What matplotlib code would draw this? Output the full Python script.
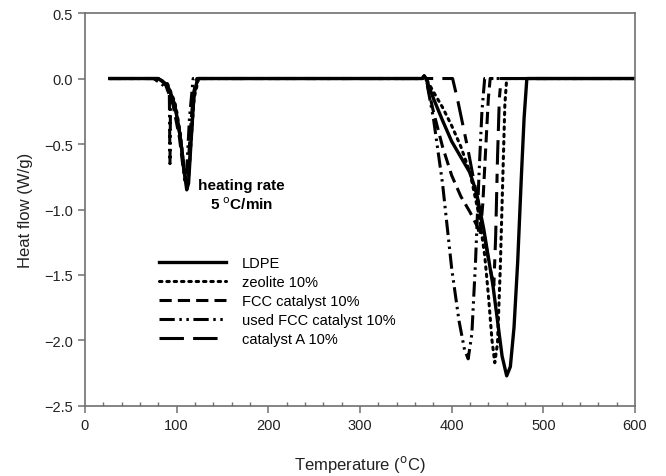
import matplotlib
matplotlib.use("Agg")
import matplotlib.pyplot as plt
from matplotlib.ticker import MultipleLocator

plt.rcParams['font.family'] = ['Liberation Sans', 'DejaVu Sans']

# ---------------- data ----------------
ldpe_t = [27, 80, 90, 98, 104, 108, 111, 113, 116, 119, 123, 368, 370, 372,
          380, 390, 400, 410, 420, 427, 435, 445, 450, 455, 460, 464, 468,
          472, 476, 479, 482, 600]
ldpe_hf = [0, 0, -0.05, -0.2, -0.45, -0.7, -0.85, -0.8, -0.45, -0.12, 0, 0, 0.02, 0.0,
           -0.15, -0.32, -0.48, -0.6, -0.72, -0.87, -1.15, -1.58, -1.85, -2.12, -2.27, -2.2, -1.9,
           -1.4, -0.75, -0.3, 0, 0]

zeo_t = [27, 80, 90, 98, 104, 108, 111, 113, 116, 119, 124, 368, 370, 372,
         380, 390, 400, 410, 420, 430, 436, 440, 444, 447, 450, 453, 456, 458, 460, 600]
zeo_hf = [0, 0, -0.04, -0.18, -0.42, -0.68, -0.8, -0.75, -0.45, -0.15, 0, 0, 0.02, 0.0,
          -0.1, -0.22, -0.36, -0.52, -0.72, -1.05, -1.35, -1.65, -2.0, -2.17, -2.02, -1.45, -0.7, -0.2, 0, 0]

fcc_t = [27, 78, 88, 96, 103, 107, 110, 112, 115, 118, 122, 368, 370, 372,
         380, 390, 400, 410, 420, 428, 431, 434, 437, 440, 442, 600]
fcc_hf = [0, 0, -0.05, -0.2, -0.45, -0.68, -0.78, -0.72, -0.4, -0.12, 0, 0, 0.02, 0.0,
          -0.25, -0.52, -0.74, -0.9, -1.02, -1.13, -1.2, -0.95, -0.55, -0.15, 0, 0]

used_t = [27, 75, 85, 92, 92.7, 93.4, 100, 105, 109, 111, 114, 118, 368, 370, 372,
          380, 390, 400, 408, 414, 418, 422, 426, 430, 433, 436, 600]
used_hf = [0, 0, -0.05, -0.1, -0.65, -0.12, -0.25, -0.5, -0.8, -0.7, -0.3, 0, 0, 0.02, 0.0,
           -0.3, -0.8, -1.45, -1.85, -2.07, -2.14, -1.95, -1.4, -0.7, -0.25, 0, 0]

catA_t = [27, 80, 90, 98, 104, 108, 111, 113, 116, 119, 123, 368, 370, 372,
          401, 407, 418, 428, 436, 442, 446, 448, 450, 452, 454, 600]
catA_hf = [0, 0, -0.05, -0.2, -0.45, -0.68, -0.8, -0.75, -0.42, -0.12, 0, 0, 0.02, 0.0,
           0, -0.18, -0.55, -0.92, -1.22, -1.45, -1.58, -1.2, -0.6, -0.15, 0, 0]

labels = ['LDPE', 'zeolite 10%', 'FCC catalyst 10%', 'used FCC catalyst 10%', 'catalyst A 10%']

# ---------------- plot ----------------
fig = plt.figure(figsize=(6.66, 4.77), dpi=100)
ax = fig.add_axes([0.1276, 0.1468, 0.8259, 0.8238])

lw = 2.2
ax.plot(ldpe_t, ldpe_hf, color='black', lw=2.4, linestyle='-', label=labels[0])
ax.plot(zeo_t, zeo_hf, color='black', lw=lw, linestyle=(0, (0.8, 1.6)),
        dash_capstyle='round', label=labels[1])
ax.plot(fcc_t, fcc_hf, color='black', lw=lw, linestyle=(0, (4, 2)), label=labels[2])
ax.plot(used_t, used_hf, color='black', lw=lw, linestyle=(0, (5, 1.5, 0.8, 1.5, 0.8, 1.5)),
        label=labels[3])
ax.plot(catA_t, catA_hf, color='black', lw=lw, linestyle=(0, (8, 3, 8, 3, 3, 3)),
        label=labels[4])

ax.set_xlim(0, 600)
ax.set_ylim(-2.5, 0.5)
ax.xaxis.set_major_locator(MultipleLocator(100))
ax.xaxis.set_minor_locator(MultipleLocator(20))
ax.yaxis.set_major_locator(MultipleLocator(0.5))
ax.yaxis.set_major_formatter(matplotlib.ticker.FuncFormatter(
    lambda v, p: ('%.1f' % v).replace('-', '\u2212')))

for s in ax.spines.values():
    s.set_color('#707070')
    s.set_linewidth(1.2)
ax.tick_params(axis='both', which='major', direction='out', length=5, width=1.1,
               color='#707070', labelsize=10.5, labelcolor='#222222')
ax.tick_params(axis='x', which='minor', direction='in', length=3, width=1.0, color='#707070')

ax.set_xlabel('Temperature ($^{\\rm o}$C)', fontsize=12, color='#222222', labelpad=15)
ax.set_ylabel('Heat flow (W/g)', fontsize=12, color='#222222', labelpad=8)

ax.text(171, -0.89, 'heating rate\n5 $^{\\rm o}$C/min', ha='center', va='center',
        fontsize=11, fontweight='bold', linespacing=1.3)

ax.legend(loc='upper left', bbox_to_anchor=(0.124, 0.397), frameon=False,
          fontsize=10.5, handlelength=4.6, handletextpad=1.1, labelspacing=0.35,
          borderaxespad=0)

fig.savefig('out.png', dpi=100)
